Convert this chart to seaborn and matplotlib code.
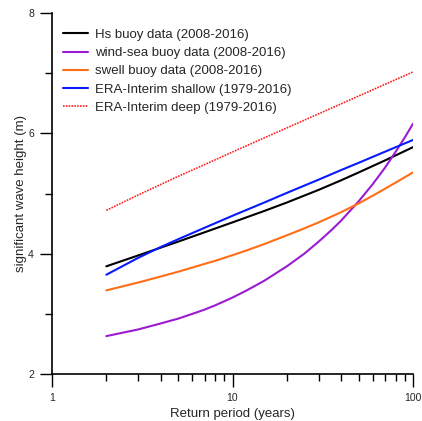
import numpy as np
import pandas as pd
import matplotlib
matplotlib.use("Agg")
import matplotlib.pyplot as plt
import matplotlib.ticker as mticker
import seaborn as sns

# return periods (years)
return_period = [2, 3, 4, 5, 7, 10, 15, 20, 30, 40, 50, 70, 100]
# denser grid for the two curved buoy series
return_period_fine = [2, 3, 4, 5, 6, 7, 8, 10, 12, 15, 20, 25, 30, 35, 40, 50, 60, 70, 80, 90, 100]

# significant wave height (m)
hs_buoy = [3.79, 3.97, 4.10, 4.20, 4.355, 4.52, 4.71, 4.85, 5.06, 5.22, 5.35, 5.55, 5.77]
era_shallow = [3.65, 3.93, 4.11, 4.24, 4.43, 4.63, 4.85, 5.01, 5.23, 5.39, 5.51, 5.695, 5.89]
era_deep = [4.72, 4.975, 5.15, 5.285, 5.48, 5.69, 5.925, 6.09, 6.325, 6.49, 6.62, 6.815, 7.02]

windsea_buoy = [2.63, 2.74, 2.84, 2.92, 3.00, 3.07, 3.14, 3.27, 3.39, 3.55, 3.79,
                4.00, 4.20, 4.38, 4.55, 4.87, 5.16, 5.43, 5.69, 5.93, 6.16]
swell_buoy = [3.39, 3.52, 3.62, 3.70, 3.77, 3.83, 3.88, 3.975, 4.055, 4.16, 4.305,
              4.42, 4.52, 4.61, 4.69, 4.835, 4.965, 5.08, 5.18, 5.27, 5.35]

labels = [
    "Hs buoy data (2008-2016)",
    "wind-sea buoy data (2008-2016)",
    "swell buoy data (2008-2016)",
    "ERA-Interim shallow (1979-2016)",
    "ERA-Interim deep (1979-2016)",
]
colors = ["#000000", "#9B1BD3", "#FF6E17", "#0A1AFF", "#FF2020"]
styles = ["-", "-", "-", "-", (0, (1, 0.7))]
xs = [return_period, return_period_fine, return_period_fine, return_period, return_period]
ys = [hs_buoy, windsea_buoy, swell_buoy, era_shallow, era_deep]

sns.set_style("ticks")
plt.rcParams["font.family"] = ["Liberation Sans", "DejaVu Sans"]

fig = plt.figure(figsize=(4.22, 4.21), dpi=100)
ax = fig.add_axes([52 / 422, 47 / 421, 361 / 422, 361 / 421])

for lab, col, ls, x, y in zip(labels, colors, styles, xs, ys):
    df = pd.DataFrame({"T": x, "Hs": y})
    lw = 1.2 if ls != "-" else 1.5
    sns.lineplot(data=df, x="T", y="Hs", color=col, linestyle=ls, linewidth=lw,
                 label=lab, ax=ax)

ax.set_xscale("log")
ax.set_xlim(1, 100)
ax.set_ylim(2, 8)
ax.xaxis.set_major_locator(mticker.FixedLocator([1, 10, 100]))
ax.xaxis.set_major_formatter(mticker.FixedFormatter(["1", "10", "100"]))
ax.xaxis.set_minor_locator(mticker.LogLocator(base=10, subs=np.arange(2, 10)))
ax.xaxis.set_minor_formatter(mticker.NullFormatter())
ax.yaxis.set_major_locator(mticker.MultipleLocator(2))
ax.yaxis.set_minor_locator(mticker.MultipleLocator(1))

ax.tick_params(which="major", length=9, width=1, color="black", labelsize=7.5)
ax.tick_params(axis="x", which="major", pad=5)
ax.tick_params(axis="y", which="major", pad=4)
ax.tick_params(which="minor", length=5, width=1, color="black")

sns.despine(ax=ax)
for s in ["left", "bottom"]:
    ax.spines[s].set_linewidth(1.2)
    ax.spines[s].set_color("black")

ax.set_xlabel("Return period (years)", fontsize=9.5, labelpad=3)
ax.set_ylabel("significant wave height (m)", fontsize=9.5, labelpad=1)

ax.legend(loc="upper left", bbox_to_anchor=(0.016, 0.971), frameon=False, fontsize=9.5,
          handlelength=1.9, handletextpad=0.5, labelspacing=0.45, borderaxespad=0.0)

fig.savefig("out.png", dpi=100)
